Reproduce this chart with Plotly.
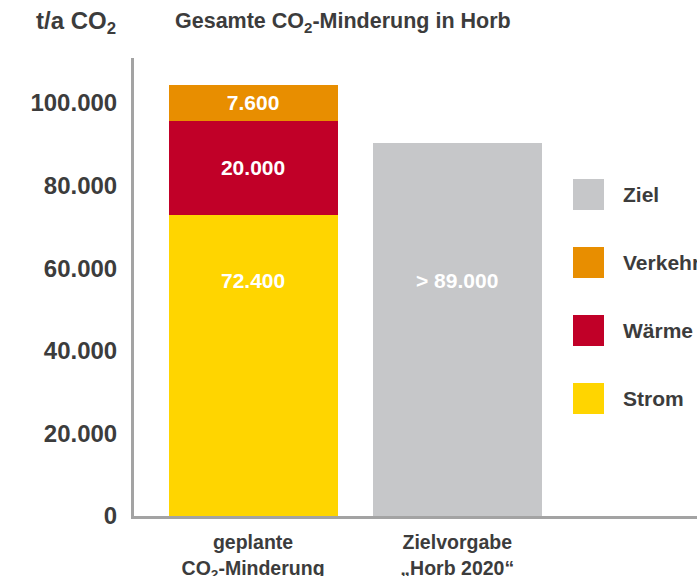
import plotly.graph_objects as go

# ---------------- data ----------------
categories = ["geplante<br>CO<sub>2</sub>-Minderung", "Zielvorgabe<br>„Horb 2020“"]

planned_segments = ["Strom", "Wärme", "Verkehr"]
planned_values = [72900, 22800, 8700]          # bar heights as drawn
planned_labels = ["72.400", "20.000", "7.600"]  # printed labels

target_name = "Ziel"
target_value = 90400
target_label = "> 89.000"

y_tickvals = [0, 20000, 40000, 60000, 80000, 100000]

legend_order = ["Ziel", "Verkehr", "Wärme", "Strom"]

# ---------------- style ----------------
colors = {
    "Strom": "#FFD500",
    "Wärme": "#C10028",
    "Verkehr": "#E88E00",
    "Ziel": "#C6C7C9",
}
FONT = "Liberation Sans, Arial, sans-serif"
TXT = "#3c3c3c"
AXIS = "#a3a3a3"

W, H = 697, 576
ML, MR, MT, MB = 134, 0, 58, 60
PW, PH = W - ML - MR, H - MT - MB


def px_x(px):
    return (px - ML) / PW


def px_y(py):
    return (H - MB - py) / PH


fig = go.Figure()

for name, val, lab in zip(planned_segments, planned_values, planned_labels):
    inside = name != "Strom"
    fig.add_trace(go.Bar(
        x=[categories[0]], y=[val], name=name,
        marker=dict(color=colors[name], line=dict(width=0)),
        text=[lab] if inside else None,
        textposition="inside" if inside else "none",
        insidetextanchor="middle",
        textangle=0,
        constraintext="none",
        textfont=dict(family=FONT, size=21, color="white", weight="bold"),
    ))

fig.add_trace(go.Bar(
    x=[categories[1]], y=[target_value], name=target_name,
    marker=dict(color=colors[target_name], line=dict(width=0)),
    textposition="none",
))

annotations = []
LABEL_LEVEL = 57000
annotations.append(dict(x=categories[0], y=LABEL_LEVEL, xref="x", yref="y",
                        text=planned_labels[0], showarrow=False,
                        font=dict(family=FONT, size=21, color="white", weight="bold")))
annotations.append(dict(x=categories[1], y=LABEL_LEVEL, xref="x", yref="y",
                        text=target_label, showarrow=False,
                        font=dict(family=FONT, size=21, color="white", weight="bold")))

# titles
annotations.append(dict(x=px_x(173), y=px_y(23), xref="paper", yref="paper",
                        xanchor="left", yanchor="middle", showarrow=False,
                        text="Gesamte CO<sub>2</sub>-Minderung in Horb",
                        font=dict(family=FONT, size=21.5, color=TXT, weight="bold")))
annotations.append(dict(x=px_x(34), y=px_y(23), xref="paper", yref="paper",
                        xanchor="left", yanchor="middle", showarrow=False,
                        text="t/a CO<sub>2</sub>",
                        font=dict(family=FONT, size=24, color=TXT, weight="bold")))

# custom legend
shapes = []
for k, name in enumerate(legend_order):
    top = 179 + 68 * k
    shapes.append(dict(type="rect", xref="paper", yref="paper",
                       x0=px_x(573), x1=px_x(604), y0=px_y(top + 31), y1=px_y(top),
                       fillcolor=colors[name], line=dict(width=0)))
    annotations.append(dict(x=px_x(621), y=px_y(top + 15.5), xref="paper", yref="paper",
                            xanchor="left", yanchor="middle", showarrow=False,
                            text=name,
                            font=dict(family=FONT, size=21, color=TXT, weight="bold")))

fig.update_layout(
    width=W, height=H,
    margin=dict(l=ML, r=MR, t=MT, b=MB, autoexpand=False),
    paper_bgcolor="white", plot_bgcolor="white",
    barmode="stack", bargap=0.172,
    showlegend=False,
    separators=",.",
    annotations=annotations,
    shapes=shapes,
    xaxis=dict(
        range=[-0.583, 2.174], showline=True, linecolor=AXIS, linewidth=3,
        ticks="", showgrid=False, zeroline=False, ticklabelstandoff=7,
        automargin=False,
        tickfont=dict(family=FONT, size=19.5, color=TXT, weight="bold"),
    ),
    yaxis=dict(
        range=[0, 110900], showline=True, linecolor=AXIS, linewidth=3,
        tickvals=y_tickvals, tickformat=",d", ticks="", showgrid=False,
        zeroline=False, ticklabelstandoff=9, automargin=False,
        tickfont=dict(family=FONT, size=24, color=TXT, weight="bold"),
    ),
)

fig.write_html(
    "out.html",
    config={"displayModeBar": False},
    post_script="document.body.style.margin='0px';document.body.style.overflow='hidden';",
)
